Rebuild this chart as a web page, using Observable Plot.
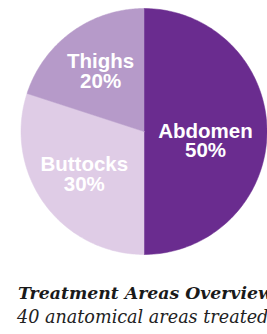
<!DOCTYPE html>
<html>
<head>
<meta charset="utf-8">
<script src="https://cdn.jsdelivr.net/npm/d3@7"></script>
<script src="https://cdn.jsdelivr.net/npm/@observablehq/plot@0.6"></script>
<style>
  html, body { margin: 0; padding: 0; background: #fff; width: 267px; overflow: hidden; }
  #chart svg { display: block; }
  .title { font-family: "DejaVu Serif", serif; font-style: italic; font-weight: bold; font-size: 17.3px; line-height: 20px; margin-top: 21px; padding-left: 18px; white-space: nowrap; color: #1a1a1a; }
  .subtitle { font-family: "DejaVu Serif", serif; font-style: italic; font-size: 17.6px; line-height: 20px; margin-top: 4px; padding-left: 17px; white-space: nowrap; color: #222; }
</style>
</head>
<body>
<div id="chart"></div>
<div class="title">Treatment Areas Overview</div>
<div class="subtitle">40 anatomical areas treated</div>
<script>
const categories = ["Abdomen", "Buttocks", "Thighs"];
const shares = [50, 30, 20];
const colors = ["#6a2c8f", "#dfcce6", "#b69ac9"];

const data = categories.map((c, i) => ({name: c, value: shares[i]}));
const arcs = d3.pie().sort(null).value(d => d.value)(data);

// slice outlines as polygons (unit circle, angle measured clockwise from 12 o'clock)
const pts = [];
for (const a of arcs) {
  const name = a.data.name;
  pts.push({name, x: 0, y: 0});
  const n = 120;
  for (let k = 0; k <= n; k++) {
    const t = a.startAngle + (a.endAngle - a.startAngle) * k / n;
    pts.push({name, x: Math.sin(t), y: Math.cos(t)});
  }
  pts.push({name, x: 0, y: 0});
}

const labelR = 0.6;
const labels = arcs.map(a => {
  const m = (a.startAngle + a.endAngle) / 2;
  let x = labelR * Math.sin(m);
  let y = labelR * Math.cos(m);
  if (Math.abs(x) > 0.5) { x = Math.sign(x) * 0.5; y -= 0.08; }
  return {x, y, text: `${a.data.name}\n${a.data.value}%`};
});

const chart = Plot.plot({
  width: 267,
  height: 262,
  marginLeft: 20.5,
  marginRight: 0.5,
  marginTop: 8,
  marginBottom: 8,
  axis: null,
  x: {domain: [-1, 1]},
  y: {domain: [-1, 1]},
  color: {domain: categories, range: colors},
  marks: [
    Plot.line(pts, {x: "x", y: "y", z: "name", fill: "name", stroke: "name", strokeWidth: 0.5, curve: "linear"}),
    Plot.text(labels, {x: "x", y: "y", text: "text", fill: "white", fontSize: 20.5, fontWeight: "bold", fontFamily: "Liberation Sans, Arial, sans-serif", lineHeight: 0.96})
  ]
});
document.getElementById("chart").appendChild(chart);
</script>
</body>
</html>
